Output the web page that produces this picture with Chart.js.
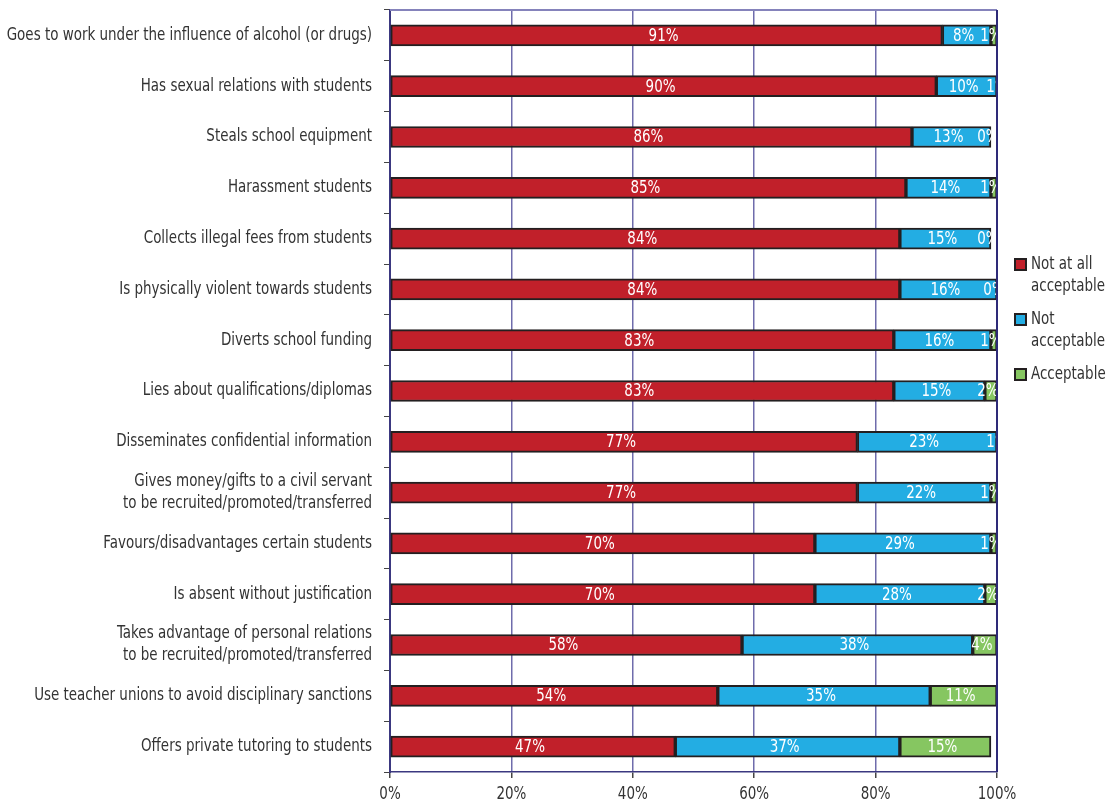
<!DOCTYPE html>
<html>
<head>
<meta charset="utf-8">
<title>Acceptability of teacher behaviours</title>
<script src="https://cdn.jsdelivr.net/npm/chart.js@4/dist/chart.umd.min.js"></script>
<style>
  body { margin: 0; background: #fff; }
  #wrap { position: relative; width: 1110px; height: 804px; }
  .legend { position: absolute; left: 1014px; top: 252px; font: 17px 'DejaVu Sans Condensed', sans-serif; color: #333; }
  .legend-item { position: relative; padding-left: 17px; line-height: 22px; margin-bottom: 11px; white-space: nowrap; }
  .legend-item .txt { display: inline-block; transform: scaleX(0.88); transform-origin: left center; }
  .legend-item .sw { position: absolute; left: 0; top: 6px; width: 9px; height: 9px; border: 2px solid #231f20; }
</style>
</head>
<body>
<div id="wrap">
  <canvas id="chart" width="1110" height="804"></canvas>
  <div class="legend" id="legend"></div>
</div>
<script>
(function () {
  'use strict';

  const CATEGORIES = [
    'Goes to work under the influence of alcohol (or drugs)',
    'Has sexual relations with students',
    'Steals school equipment',
    'Harassment students',
    'Collects illegal fees from students',
    'Is physically violent towards students',
    'Diverts school funding',
    'Lies about qualifications/diplomas',
    'Disseminates confidential information',
    ['Gives money/gifts to a civil servant', 'to be recruited/promoted/transferred'],
    'Favours/disadvantages certain students',
    'Is absent without justification',
    ['Takes advantage of personal relations', 'to be recruited/promoted/transferred'],
    'Use teacher unions to avoid disciplinary sanctions',
    'Offers private tutoring to students',
  ];

  const NOT_AT_ALL = [91, 90, 86, 85, 84, 84, 83, 83, 77, 77, 70, 70, 58, 54, 47];
  const NOT_ACCEPTABLE = [8, 10, 13, 14, 15, 16, 16, 15, 23, 22, 29, 28, 38, 35, 37];
  const ACCEPTABLE = [1, 1, 0, 1, 0, 0, 1, 2, 1, 1, 1, 2, 4, 11, 15];

  const X_TICKS = [0, 20, 40, 60, 80, 100];

  const SERIES_NAMES = [['Not at all', 'acceptable'], ['Not', 'acceptable'], ['Acceptable']];
  const SERIES_COLORS = ['#c1202a', '#23ade3', '#86c661'];

  const FONT = "'DejaVu Sans Condensed', sans-serif";
  const SQUEEZE = 0.88;   // narrow the condensed face a little more
  const GRID = '#6f6cac';
  const AXIS = '#3b3880';
  const EDGE = '#231f20';
  const TEXT = '#333333';

  // draw one horizontally squeezed string at (x, y)
  function squeezedText(ctx, str, x, y, align) {
    ctx.save();
    ctx.translate(x, y);
    ctx.scale(SQUEEZE, 1);
    ctx.textAlign = align;
    ctx.fillText(str, 0, 0);
    ctx.restore();
  }

  // category names on the left and percent ticks below the plot
  const axisText = {
    id: 'axisText',
    afterDraw(chart) {
      const ctx = chart.ctx;
      const ys = chart.scales.y;
      const xs = chart.scales.x;
      ctx.save();
      ctx.font = '17px ' + FONT;
      ctx.fillStyle = TEXT;
      ctx.textBaseline = 'middle';
      CATEGORIES.forEach(function (label, i) {
        const lines = Array.isArray(label) ? label : [label];
        const cy = ys.getPixelForValue(i);
        const lh = 22;
        lines.forEach(function (line, k) {
          const y = cy + (k - (lines.length - 1) / 2) * lh;
          squeezedText(ctx, line, 372, y, 'right');
        });
      });
      X_TICKS.forEach(function (v) {
        squeezedText(ctx, v + '%', xs.getPixelForValue(v), xs.top + 23, 'center');
      });
      ctx.restore();
    },
  };

  // white percentage text centred in each segment, clipped to the plot
  const segmentLabels = {
    id: 'segmentLabels',
    afterDatasetsDraw(chart) {
      const ctx = chart.ctx;
      const a = chart.chartArea;
      ctx.save();
      ctx.beginPath();
      ctx.rect(a.left, a.top, a.right - a.left, a.bottom - a.top);
      ctx.clip();
      ctx.font = '17px ' + FONT;
      ctx.fillStyle = '#ffffff';
      ctx.textBaseline = 'middle';
      chart.data.datasets.forEach(function (ds, i) {
        chart.getDatasetMeta(i).data.forEach(function (bar, j) {
          const cx = (bar.x + bar.base) / 2 - 3;
          squeezedText(ctx, ds.data[j] + '%', cx, bar.y + 1, 'center');
        });
      });
      ctx.restore();
    },
  };

  // top and right edges of the plot frame
  const plotFrame = {
    id: 'plotFrame',
    afterDraw(chart) {
      const ctx = chart.ctx;
      const a = chart.chartArea;
      ctx.save();
      ctx.lineWidth = 2;
      ctx.strokeStyle = '#8583bb';
      ctx.beginPath();
      ctx.moveTo(a.left, a.top);
      ctx.lineTo(a.right, a.top);
      ctx.stroke();
      ctx.strokeStyle = '#2e2a78';
      ctx.beginPath();
      ctx.moveTo(a.right, a.top);
      ctx.lineTo(a.right, a.bottom);
      ctx.stroke();
      ctx.restore();
    },
  };

  const values = [NOT_AT_ALL, NOT_ACCEPTABLE, ACCEPTABLE];
  const datasets = values.map(function (data, i) {
    return {
      label: SERIES_NAMES[i].join(' '),
      data: data,
      backgroundColor: SERIES_COLORS[i],
      borderColor: EDGE,
      borderWidth: 2,
      borderSkipped: false,
      barThickness: 21,
    };
  });

  new Chart(document.getElementById('chart'), {
    type: 'bar',
    data: { labels: CATEGORIES, datasets: datasets },
    plugins: [segmentLabels, plotFrame, axisText],
    options: {
      indexAxis: 'y',
      responsive: false,
      animation: false,
      layout: { padding: { top: 10, right: 113, left: 0, bottom: 0 } },
      plugins: {
        legend: { display: false },
        tooltip: { enabled: false },
      },
      scales: {
        x: {
          stacked: true,
          min: 0,
          max: 100,
          ticks: { stepSize: 20, display: false },
          grid: {
            color: function (c) { return (c.tick && (c.tick.value === 0 || c.tick.value === 100)) ? 'rgba(0,0,0,0)' : GRID; },
            tickColor: '#444',
            tickLength: 6,
            lineWidth: 1.5,
          },
          border: { display: true, color: AXIS, width: 1.5 },
          afterFit: function (scale) { scale.height = 32; },
        },
        y: {
          stacked: true,
          ticks: { display: false, autoSkip: false },
          grid: {
            drawOnChartArea: false,
            tickColor: '#444',
            tickLength: 6,
          },
          border: { display: true, color: AXIS, width: 2 },
          afterFit: function (scale) { scale.width = 390; },
        },
      },
    },
  });

  // legend block to the right of the plot
  const legendEl = document.getElementById('legend');
  legendEl.innerHTML = SERIES_NAMES.map(function (name, i) {
    return '<div class="legend-item"><span class="sw" style="background:' + SERIES_COLORS[i] + '"></span>' +
      '<span class="txt">' + name.join('<br>') + '</span></div>';
  }).join('');
})();
</script>
</body>
</html>
